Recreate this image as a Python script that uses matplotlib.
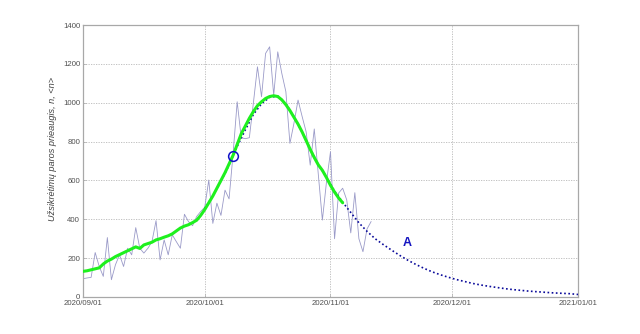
import numpy as np
import matplotlib
matplotlib.use("Agg")
import matplotlib.pyplot as plt
import matplotlib.dates as mdates
import datetime as dt

plt.rcParams['font.family'] = ['Liberation Sans', 'DejaVu Sans']

start = dt.date(2020, 9, 1)

# Daily new cases (Sep 1 .. Nov 10)
daily = [94, 98, 101, 229, 157, 106, 306, 89, 166, 217,
         157, 251, 217, 357, 251, 226, 251, 285, 393, 191,
         294, 217, 320, 285, 251, 426, 388, 367, 414, 440,
         462, 602, 379, 483, 420, 550, 505, 740, 1005, 820,
         815, 820, 1000, 1185, 1031, 1254, 1288, 1040, 1262, 1151,
         1057, 791, 895, 1014, 930, 850, 679, 865, 630, 396,
         590, 748, 300, 535, 560, 500, 330, 537, 300, 233,
         350, 388]

# 7-day mean (Sep 1 .. Nov 5)
smooth = [132, 135, 140, 145, 150, 170, 185, 195, 208, 218,
          228, 238, 248, 258, 250, 268, 275, 282, 294, 300,
          308, 315, 325, 340, 355, 365, 372, 383, 395, 420,
          450, 485, 520, 560, 600, 640, 685, 730, 785, 840,
          880, 920, 955, 985, 1005, 1022, 1032, 1036, 1032, 1015,
          990, 960, 925, 890, 850, 805, 760, 718, 680, 652,
          615, 575, 540, 510, 485]

# Model curve, every 2 days from Oct 1 to Jan 1
model_days = list(range(30, 123, 2))
model = [455, 520, 595, 680, 775, 860, 940, 995, 1028, 1034,
         995, 928, 850, 762, 682, 618, 545, 488, 435, 382,
         338, 300, 270, 242, 215, 190, 168, 148, 130, 115,
         102, 90, 80, 70, 62, 55, 49, 43, 38, 34,
         30, 27, 24, 21, 19, 17, 13]

marker_day, marker_val = 37, 726
label_day, label_val = 80.6, 278

tick_dates = [dt.date(2020, 9, 1), dt.date(2020, 10, 1), dt.date(2020, 11, 1),
              dt.date(2020, 12, 1), dt.date(2021, 1, 1)]

def to_dates(days):
    return [start + dt.timedelta(days=float(d)) for d in days]

fig = plt.figure(figsize=(6.4, 3.34), dpi=100)
ax = fig.add_axes([0.1297, 0.1108, 0.7734, 0.8142])

ax.plot(to_dates(range(len(daily))), daily, color='#9a9ac8', lw=0.6, zorder=2)
ax.plot(to_dates(model_days), model, color='#0a0a9a', lw=1.2, ls=(0, (1, 1.5)),
        zorder=3)
ax.plot(to_dates(range(len(smooth))), smooth, color='#1ef01e', lw=2.2,
        solid_capstyle='round', zorder=4)
ax.plot(to_dates([marker_day]), [marker_val], 'o', ms=7, mfc='none',
        mec='#1010c8', mew=1.1, zorder=5)
ax.text(start + dt.timedelta(days=label_day), label_val, 'A', color='#1414c0',
        fontsize=9, fontweight='bold', ha='center', va='center')

ax.set_xlim(dt.date(2020, 9, 1), dt.date(2021, 1, 1))
ax.set_ylim(0, 1400)
ax.set_xticks(tick_dates)
ax.xaxis.set_major_formatter(mdates.DateFormatter('%Y/%m/%d'))
ax.set_yticks(range(0, 1401, 200))
ax.grid(True, color='#b8b8b8', ls=(0, (1.5, 1.5)), lw=0.6)
for s in ax.spines.values():
    s.set_color('#a8a8a8')
    s.set_linewidth(0.9)
ax.tick_params(direction='in', length=2, width=0.5, colors='#a8a8a8',
               labelcolor='#505050', labelsize=5.6, pad=2)
ax.set_ylabel('Užsikrėtimų paros prieaugis, n, <n>', fontsize=6.6,
              style='italic', color='#404040')
ax.yaxis.set_label_coords(-0.053, 0.545)

fig.savefig('out.png', dpi=100)
